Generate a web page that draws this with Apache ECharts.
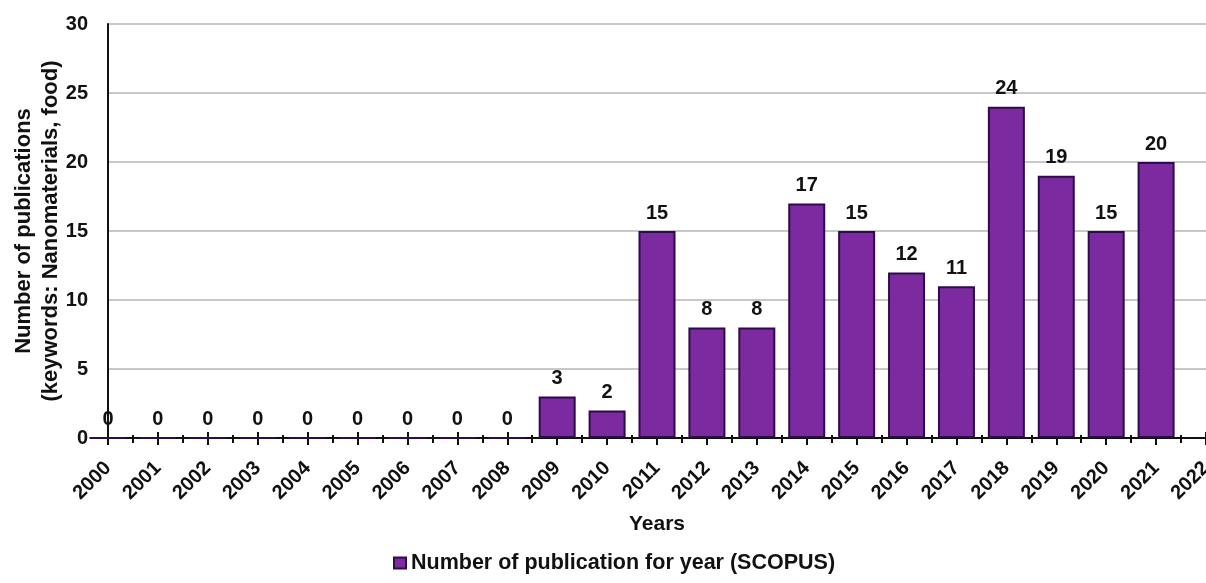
<!DOCTYPE html>
<html>
<head>
<meta charset="utf-8">
<script src="https://cdn.jsdelivr.net/npm/echarts@6/dist/echarts.min.js"></script>
<style>html,body{margin:0;padding:0;background:#fff;}#c{width:1206px;height:583px;}</style>
</head>
<body>
<div id="c"></div>
<script>
const years = [2000,2001,2002,2003,2004,2005,2006,2007,2008,2009,2010,2011,2012,2013,2014,2015,2016,2017,2018,2019,2020,2021];
const publications = [0,0,0,0,0,0,0,0,0,3,2,15,8,8,17,15,12,11,24,19,15,20];
const yTicks = [0,5,10,15,20,25,30];
const seriesName = 'Number of publication for year (SCOPUS)';

const font = '"Liberation Sans", Arial, sans-serif';
const chart = echarts.init(document.getElementById('c'));
chart.setOption({
  backgroundColor: '#fff',
  animation: false,
  grid: {left: 108, right: 0, top: 24, bottom: 145, containLabel: false, outerBoundsMode: 'none'},
  legend: {
    data: [seriesName],
    left: 388, top: 547,
    itemWidth: 12, itemHeight: 11, itemGap: 4,
    icon: 'rect',
    textStyle: {fontFamily: font, fontWeight: 'bold', fontSize: 21.5, color: '#111'}
  },
  xAxis: [{
    type: 'value', min: 2000, max: 2022, interval: 1,
    name: 'Years', nameLocation: 'middle', nameGap: 76, nameMoveOverlap: false,
    nameTextStyle: {fontFamily: font, fontWeight: 'bold', fontSize: 21, color: '#111'},
    axisLine: {show: true, lineStyle: {color: '#111', width: 2}},
    axisTick: {show: true, inside: false, length: 7, lineStyle: {color: '#111', width: 2}},
    minorTick: {show: true, splitNumber: 2, length: 5, lineStyle: {color: '#111', width: 2}},
    axisLabel: {rotate: 45, margin: 27, fontFamily: font, fontWeight: 'bold', fontSize: 20, color: '#111',
      formatter: v => String(v)},
    splitLine: {show: false}
  }, {
    type: 'value', min: 2000, max: 2022, interval: 1, position: 'bottom',
    axisLine: {show: false},
    axisTick: {show: true, inside: true, length: 6, lineStyle: {color: '#111', width: 2}},
    minorTick: {show: true, splitNumber: 2, length: 3, lineStyle: {color: '#111', width: 2}},
    axisLabel: {show: false},
    splitLine: {show: false}
  }],
  yAxis: {
    type: 'value', min: yTicks[0], max: yTicks[yTicks.length-1], interval: 5,
    name: 'Number of publications\n(keywords: Nanomaterials, food)',
    nameLocation: 'middle', nameGap: 44, nameMoveOverlap: false,
    nameTextStyle: {fontFamily: font, fontWeight: 'bold', fontSize: 22, color: '#111', lineHeight: 27},
    axisLine: {show: true, lineStyle: {color: '#111', width: 2}},
    axisTick: {show: false},
    axisLabel: {margin: 20, fontFamily: font, fontWeight: 'bold', fontSize: 20, color: '#111'},
    splitLine: {show: true, lineStyle: {color: '#c8c8c8', width: 2}}
  },
  series: [{
    name: seriesName,
    type: 'bar',
    xAxisIndex: 0,
    data: years.map((y, i) => [y, publications[i]]),
    barWidth: 37,
    itemStyle: {color: '#7b2a9f', borderColor: '#2e0b4c', borderWidth: 2},
    label: {show: true, position: 'top', distance: 8, fontFamily: font, fontWeight: 'bold', fontSize: 20, color: '#111'},
    z: 1
  }]
});
</script>
</body>
</html>
